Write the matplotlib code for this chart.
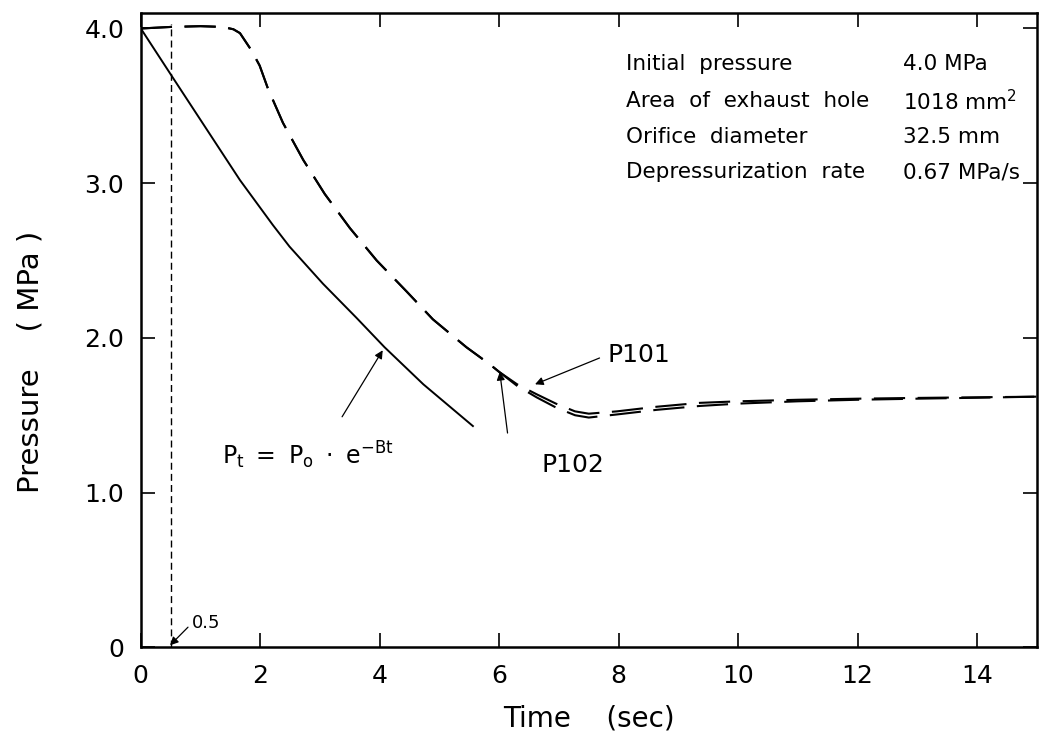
import numpy as np
import matplotlib.pyplot as plt

# Reference exponential curve P_t = P_o * e^(-Bt)
t_exp = [0.0, 0.54, 1.10, 1.66, 2.21, 2.49, 3.05, 3.61, 4.08, 4.73, 5.56]
p_exp = [4.00, 3.68, 3.35, 3.02, 2.73, 2.59, 2.35, 2.13, 1.94, 1.70, 1.43]

# Measured pressures
t_meas = [0.0, 0.5, 1.0, 1.37, 1.55, 1.66, 1.85, 1.99, 2.13, 2.38, 2.72, 3.08,
          3.5, 3.95, 4.45, 4.89, 5.45, 5.84, 6.0, 6.3, 6.63, 6.95, 7.27, 7.5,
          7.97, 8.64, 9.36, 10.0, 11.0, 12.0, 13.0, 14.0, 15.0]
p101 = [4.0, 4.01, 4.015, 4.01, 3.995, 3.97, 3.86, 3.76, 3.61, 3.39, 3.15, 2.93,
        2.71, 2.50, 2.30, 2.12, 1.94, 1.83, 1.78, 1.70, 1.635, 1.575, 1.525, 1.51,
        1.525, 1.555, 1.58, 1.59, 1.60, 1.607, 1.612, 1.616, 1.62]
p102 = [4.0, 4.01, 4.015, 4.01, 3.995, 3.97, 3.86, 3.76, 3.61, 3.39, 3.15, 2.93,
        2.71, 2.50, 2.30, 2.12, 1.94, 1.83, 1.78, 1.69, 1.615, 1.55, 1.50, 1.485,
        1.505, 1.535, 1.56, 1.575, 1.59, 1.60, 1.607, 1.613, 1.62]

x_ticks = [0, 2, 4, 6, 8, 10, 12, 14]
y_ticks = [0, 1, 2, 3, 4]
y_tick_labels = ["0", "1.0", "2.0", "3.0", "4.0"]

info_labels = ["Initial  pressure", "Area  of  exhaust  hole", "Orifice  diameter",
               "Depressurization  rate"]
info_values = ["4.0 MPa", "1018 mm$^\\mathregular{2}$", "32.5 mm", "0.67 MPa/s"]
info_y = [3.77, 3.53, 3.30, 3.07]

plt.rcParams['font.family'] = ['DejaVu Sans']

fig = plt.figure(figsize=(10.43, 7.44), dpi=100)
ax = fig.add_axes([0.135, 0.130, 0.859, 0.8525])

ax.plot(t_exp, p_exp, color='black', lw=1.4)
ax.plot(t_meas, p101, color='black', lw=1.5, linestyle=(0, (15, 6)))
ax.plot(t_meas, p102, color='black', lw=1.5, linestyle=(0, (15, 6)))
ax.vlines(0.5, 0, 4.03, colors='black', lw=1.0, linestyles=(0, (5, 3)))

ax.set_xlim(0, 15)
ax.set_ylim(0, 4.1)
ax.set_xticks(x_ticks)
ax.set_yticks(y_ticks)
ax.set_yticklabels(y_tick_labels)
ax.tick_params(direction='in', length=10, width=1.2, labelsize=18, pad=12,
               top=True, right=True)
for s in ax.spines.values():
    s.set_linewidth(1.8)

ax.set_xlabel("Time    (sec)", fontsize=20, labelpad=12)
ax.set_ylabel("Pressure    ( MPa )", fontsize=21)
ax.yaxis.set_label_coords(-0.108, 0.45)

# info block
for lab, val, yy in zip(info_labels, info_values, info_y):
    ax.text(8.12, yy, lab, fontsize=15.5, va='center', ha='left')
    ax.text(12.76, yy, val, fontsize=15.5, va='center', ha='left')

arrow = dict(arrowstyle='-|>', color='black', lw=0.9, mutation_scale=12,
             shrinkA=0, shrinkB=0)

ax.annotate("", xy=(4.05, 1.92), xytext=(3.37, 1.49), arrowprops=arrow)
ax.text(1.36, 1.24, r"$\mathregular{P_t\ =\ P_o\ \cdot\ e^{-Bt}}$", fontsize=17,
        va='center', ha='left')

ax.annotate("", xy=(6.01, 1.78), xytext=(6.14, 1.385), arrowprops=arrow)
ax.text(7.23, 1.18, "P102", fontsize=18, va='center', ha='center')

ax.annotate("", xy=(6.60, 1.70), xytext=(7.68, 1.87), arrowprops=arrow)
ax.text(7.82, 1.89, "P101", fontsize=18, va='center', ha='left')

ax.annotate("", xy=(0.49, 0.013), xytext=(0.79, 0.13), arrowprops=arrow)
ax.text(0.85, 0.155, "0.5", fontsize=13, va='center', ha='left')

plt.savefig('out.png', dpi=100)
